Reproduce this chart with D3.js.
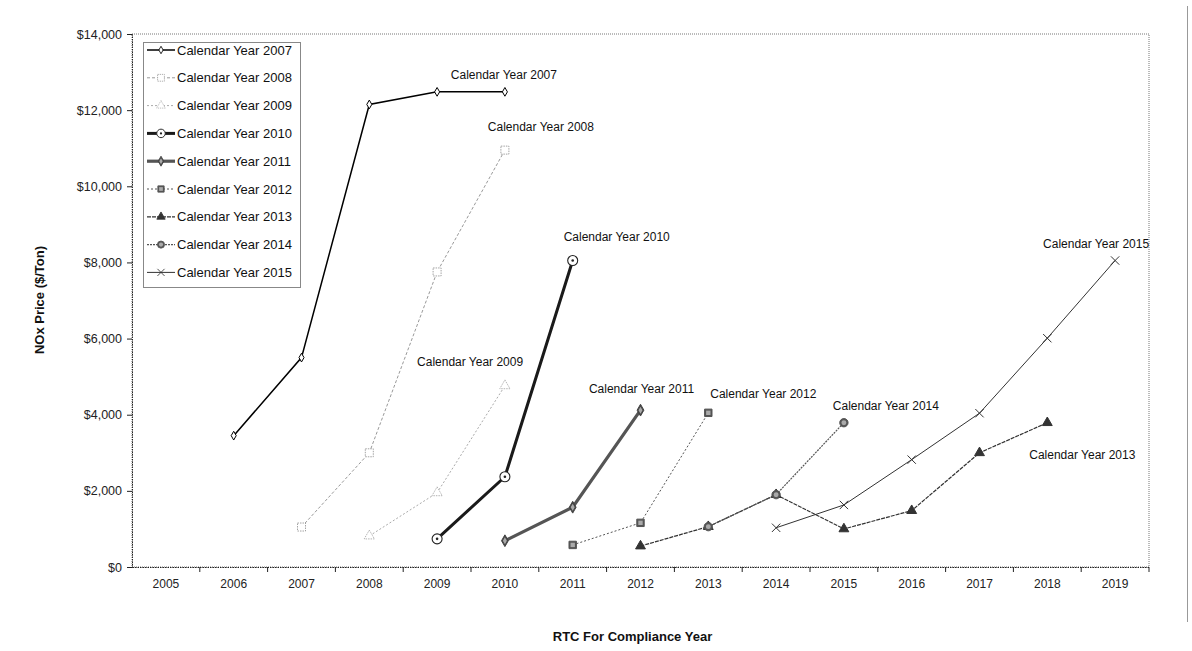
<!DOCTYPE html>
<html>
<head>
<meta charset="utf-8">
<script src="https://cdn.jsdelivr.net/npm/d3@7"></script>
<style>
  body { margin: 0; background: #fff; }
  svg { font-family: "Liberation Sans", Arial, sans-serif; }
</style>
</head>
<body>
<div class="chart"></div>
<script>
// data
var categories = ["2005", "2006", "2007", "2008", "2009", "2010", "2011", "2012",
                  "2013", "2014", "2015", "2016", "2017", "2018", "2019"];
var yTicks = [0, 2000, 4000, 6000, 8000, 10000, 12000, 14000];

var seriesNames = ["Calendar Year 2007", "Calendar Year 2008", "Calendar Year 2009",
                   "Calendar Year 2010", "Calendar Year 2011", "Calendar Year 2012",
                   "Calendar Year 2013", "Calendar Year 2014", "Calendar Year 2015"];
var seriesYears = [
  ["2006", "2007", "2008", "2009", "2010"],
  ["2007", "2008", "2009", "2010"],
  ["2008", "2009", "2010"],
  ["2009", "2010", "2011"],
  ["2010", "2011", "2012"],
  ["2011", "2012", "2013"],
  ["2012", "2013", "2014", "2015", "2016", "2017", "2018"],
  ["2013", "2014", "2015"],
  ["2014", "2015", "2016", "2017", "2018", "2019"]
];
var seriesValues = [
  [3450, 5500, 12150, 12480, 12480],
  [1050, 3000, 7750, 10950],
  [815, 1950, 4760],
  [740, 2370, 8050],
  [690, 1570, 4120],
  [580, 1160, 4050],
  [550, 1060, 1900, 1000, 1480, 3000, 3790],
  [1060, 1900, 3790],
  [1030, 1630, 2820, 4040, 6010, 8050]
];

// in-chart labels: anchored to a category and value
var labelCats = ["2010", "2010", "2009", "2011", "2012", "2013", "2018", "2015", "2019"];
var labelVals = [12920, 11560, 5390, 8670, 4680, 4545, 2940, 4230, 8480];

// styling
var svgWidth = 1192;
var svgHeight = 651;
var margin = { top: 34, right: 43, bottom: 84, left: 132 };
var width = svgWidth - margin.left - margin.right;
var height = svgHeight - margin.top - margin.bottom;

var labelDx = [-1, 36, 33, 44, 1, 55, 35, 42, -19];

var styles = [
  { stroke: "#000", width: 1.5, dash: null,  marker: "diamondOpen",  mstroke: "#000", size: 22 },
  { stroke: "#999", width: 1,   dash: "3,2", marker: "squareOpen",   mstroke: "#999", size: 64 },
  { stroke: "#aaa", width: 1,   dash: "2,2", marker: "triangleOpen", mstroke: "#aaa", size: 45 },
  { stroke: "#1a1a1a", width: 3, dash: null, marker: "circleDot",    mstroke: "#222", size: 80 },
  { stroke: "#555", width: 3.2, dash: null,  marker: "diamondFill",  mstroke: "#444", size: 40 },
  { stroke: "#555", width: 1,   dash: "2,2", marker: "squareFill",   mstroke: "#555", size: 55 },
  { stroke: "#333", width: 1.2, dash: "4,1", marker: "triangleFill", mstroke: "#333", size: 42 },
  { stroke: "#555", width: 1.2, dash: "2,1", marker: "circleFill",   mstroke: "#555", size: 55 },
  { stroke: "#333", width: 1,   dash: null,  marker: "times",        mstroke: "#333", size: 70 }
];

var svg = d3.select(".chart")
  .append("svg")
  .attr("width", svgWidth)
  .attr("height", svgHeight);

var chartGroup = svg.append("g")
  .attr("transform", `translate(${margin.left}, ${margin.top})`);

var xScale = d3.scaleBand()
  .domain(categories)
  .range([0, width]);

var yScale = d3.scaleLinear()
  .domain([0, 14000])
  .range([height, 0]);

var xc = d => xScale(d) + xScale.bandwidth() / 2;

// plot border (dotted)
chartGroup.append("rect")
  .attr("x", 0).attr("y", 0)
  .attr("width", width).attr("height", height)
  .attr("fill", "none")
  .attr("stroke", "#777")
  .attr("stroke-width", 1)
  .attr("stroke-dasharray", "1,1");

// x axis
var xAxis = d3.axisBottom(xScale).tickSize(0).tickPadding(12);
var gx = chartGroup.append("g")
  .attr("transform", `translate(0, ${height})`)
  .call(xAxis);
gx.select(".domain").attr("stroke", "#222").attr("stroke-dasharray", "1.5,1");
gx.selectAll("text").attr("font-size", "12px").attr("fill", "#222");
// ticks between categories
gx.selectAll(".btick")
  .data(categories.slice(1).concat(["end"]))
  .enter().append("line")
  .attr("x1", (d, i) => xScale.step() * (i + 1))
  .attr("x2", (d, i) => xScale.step() * (i + 1))
  .attr("y1", 0).attr("y2", 5)
  .attr("stroke", "#222");

// y axis
var yAxis = d3.axisLeft(yScale)
  .tickValues(yTicks)
  .tickSize(5)
  .tickPadding(5)
  .tickFormat(d => "$" + d3.format(",")(d));
var gy = chartGroup.append("g").call(yAxis);
gy.select(".domain").attr("stroke", "#222").attr("stroke-dasharray", "1.5,1");
gy.selectAll("line").attr("stroke", "#222");
gy.selectAll("text").attr("font-size", "12.5px").attr("fill", "#222");

// axis titles
svg.append("text")
  .attr("x", margin.left + width / 2 - 8)
  .attr("y", 641)
  .attr("text-anchor", "middle")
  .attr("font-size", "13px")
  .attr("font-weight", "bold")
  .attr("fill", "#111")
  .text("RTC For Compliance Year");

svg.append("text")
  .attr("transform", "translate(44, 300) rotate(-90)")
  .attr("text-anchor", "middle")
  .attr("font-size", "13px")
  .attr("font-weight", "bold")
  .attr("fill", "#111")
  .text("NOx Price ($/Ton)");

// outer frame line on the right
svg.append("line")
  .attr("x1", 1187.5).attr("x2", 1187.5)
  .attr("y1", 6).attr("y2", 622)
  .attr("stroke", "#999");

// marker drawing
var timesType = {
  draw: function(ctx, size) {
    var r = Math.sqrt(size) / 2;
    ctx.moveTo(-r, -r); ctx.lineTo(r, r);
    ctx.moveTo(r, -r); ctx.lineTo(-r, r);
  }
};

function drawMarker(g, st) {
  var m = st.marker;
  if (m === "circleDot") {
    g.append("circle").attr("r", 5).attr("fill", "#fff")
      .attr("stroke", st.mstroke).attr("stroke-width", 1.1);
    g.append("circle").attr("r", 1.3).attr("fill", st.mstroke);
    return;
  }
  var type = {
    diamondOpen: d3.symbolDiamond, diamondFill: d3.symbolDiamond,
    squareOpen: d3.symbolSquare, squareFill: d3.symbolSquare,
    triangleOpen: d3.symbolTriangle, triangleFill: d3.symbolTriangle,
    circleFill: d3.symbolCircle, times: timesType
  }[m];
  var open = /Open/.test(m) || m === "times";
  g.append("path")
    .attr("d", d3.symbol().type(type).size(st.size)())
    .attr("fill", open ? (m === "times" ? "none" : "#fff") : st.mstroke)
    .attr("stroke", st.mstroke)
    .attr("stroke-width", m === "squareOpen" || m === "triangleOpen" ? 0.9 : 1)
    .attr("stroke-dasharray", m === "squareOpen" || m === "triangleOpen" ? "1.5,1" : null);
  if (m === "squareFill" || m === "circleFill" || m === "diamondFill") {
    // hatched look
    g.append("path")
      .attr("d", d3.symbol().type(type).size(st.size * 0.35)())
      .attr("fill", "#aaa");
  }
}

var line = d3.line()
  .x(d => xc(d.cat))
  .y(d => yScale(d.val));

seriesNames.forEach(function(name, si) {
  var st = styles[si];
  var pts = seriesYears[si].map((c, i) => ({ cat: c, val: seriesValues[si][i] }));

  chartGroup.append("path")
    .datum(pts)
    .attr("d", line)
    .attr("fill", "none")
    .attr("stroke", st.stroke)
    .attr("stroke-width", st.width)
    .attr("stroke-dasharray", st.dash);

  chartGroup.selectAll(".m" + si)
    .data(pts)
    .enter().append("g")
    .attr("class", "m" + si)
    .attr("transform", d => `translate(${xc(d.cat)}, ${yScale(d.val)})`)
    .each(function() { drawMarker(d3.select(this), st); });
});

// in-chart labels
chartGroup.selectAll(".clabel")
  .data(seriesNames)
  .enter().append("text")
  .attr("class", "clabel")
  .attr("x", (d, i) => xc(labelCats[i]) + labelDx[i])
  .attr("y", (d, i) => yScale(labelVals[i]))
  .attr("dy", "0.35em")
  .attr("text-anchor", "middle")
  .attr("font-size", "12px")
  .attr("fill", "#111")
  .text(d => d);

// legend
var legend = svg.append("g").attr("transform", "translate(143, 42)");
legend.append("rect")
  .attr("x", 0.5).attr("y", 0.5)
  .attr("width", 157).attr("height", 245)
  .attr("fill", "#fff")
  .attr("stroke", "#888");

seriesNames.forEach(function(name, si) {
  var st = styles[si];
  var row = legend.append("g").attr("transform", `translate(0, ${8 + si * 27.8})`);
  row.append("line")
    .attr("x1", 4).attr("x2", 32)
    .attr("stroke", st.stroke)
    .attr("stroke-width", st.width)
    .attr("stroke-dasharray", st.dash);
  var mg = row.append("g").attr("transform", "translate(18, 0) scale(0.85)");
  drawMarker(mg, st);
  row.append("text")
    .attr("x", 34)
    .attr("dy", "0.35em")
    .attr("font-size", "13px")
    .attr("fill", "#111")
    .text(name);
});
</script>
</body>
</html>
